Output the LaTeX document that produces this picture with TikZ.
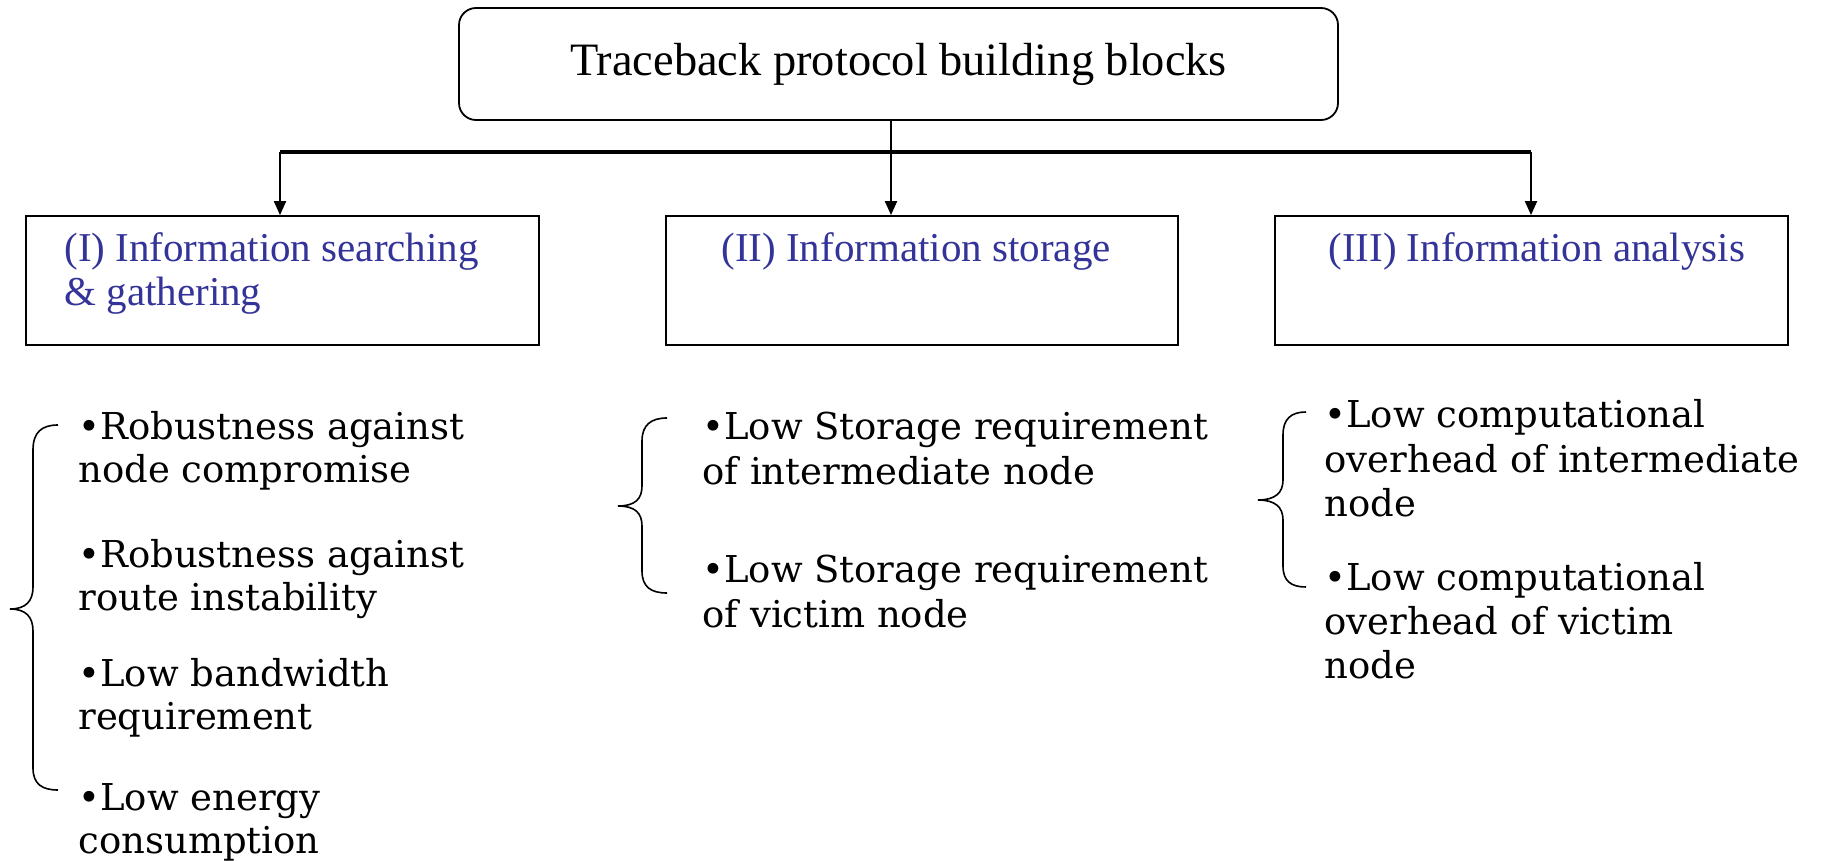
\documentclass[tikz,border=0pt]{standalone}
\usepackage{fontspec}
\setmainfont{Liberation Serif}
\newfontfamily\bulletfont{DejaVu Serif}
\usetikzlibrary{arrows.meta}
\definecolor{headblue}{RGB}{51,51,153}
\begin{document}
\begin{tikzpicture}[x=0.5pt,y=-0.5pt,
  catbox/.style={draw, line width=0.9pt, minimum height=64.5pt, inner sep=0pt},
  cattext/.style={anchor=base west, align=left, inner sep=0pt, text=headblue, font=\fontsize{20.5}{22}\selectfont},
  item/.style={anchor=base west, align=left, inner sep=0pt, font=\bulletfont\fontsize{18.5}{21.5}\selectfont},
  itemmid/.style={item, font=\bulletfont\fontsize{18.5}{22.5}\selectfont},
  itemright/.style={item, font=\bulletfont\fontsize{18.5}{22}\selectfont},
  brace/.style={line width=0.8pt},
  conn/.style={line width=1pt},
  arr/.style={conn, -{Triangle[length=7pt,width=6pt]}}]
\useasboundingbox (0,0) rectangle (1832,861);

\node[draw, rounded corners=8.5pt, line width=0.9pt, minimum width=439.5pt, minimum height=56pt,
      font=\fontsize{23.2}{27}\selectfont] (top) at (898.5,64) {Traceback protocol building blocks};

\node[catbox, minimum width=256.5pt] (b1) at (282.5,280.5) {};
\node[catbox, minimum width=256pt] (b2) at (922,280.5) {};
\node[catbox, minimum width=256.5pt] (b3) at (1531.5,280.5) {};

% base anchor of a multi-line node = baseline of its last line
\node[cattext] (t1) at (64,306) {(I) Information searching\\\& gathering};
\node[cattext] (t2) at (721,262) {(II) Information storage};
\node[cattext] (t3) at (1328,262) {(III) Information analysis};

\coordinate (hub) at (891,152);
\coordinate (barL) at (280,152);
\coordinate (barR) at (1531,152);
\draw[conn] (hub |- top.south) -- (hub);
\draw[line width=2pt] (barL) -- (barR);
\draw[arr] (barL) -- (barL |- b1.north);
\draw[arr] (hub) -- (hub |- b2.north);
\draw[arr] (barR) -- (barR |- b3.north);

% left column
\node[item] (l1) at (78,482) {•Robustness against\\node compromise};
\node[item] (l2) at (78,610) {•Robustness against\\route instability};
\node[item] (l3) at (78,729) {•Low bandwidth\\requirement};
\node[item] (l4) at (78,853) {•Low energy\\consumption};
% middle column
\node[itemmid] (m1) at (702,484) {•Low Storage requirement\\of intermediate node};
\node[itemmid] (m2) at (702,627) {•Low Storage requirement\\of victim node};
% right column
\node[itemright] (r1) at (1324,516) {•Low computational\\overhead of intermediate\\node};
\node[itemright] (r2) at (1324,678) {•Low computational\\overhead of victim\\node};

% braces
\draw[brace] (58,425) .. controls (42,425) and (33,432) .. (33,450) -- (33,587)
  .. controls (33,601) and (26,609) .. (10,609)
  .. controls (26,609) and (33,617) .. (33,631) -- (33,768)
  .. controls (33,784) and (42,790) .. (58,790);
\draw[brace] (667,418) .. controls (651,418) and (642,425) .. (642,441) -- (642,486)
  .. controls (642,499) and (635,506) .. (618,506)
  .. controls (635,506) and (642,513) .. (642,526) -- (642,571)
  .. controls (642,587) and (651,593) .. (667,593);
\draw[brace] (1306,412) .. controls (1291,412) and (1283,419) .. (1283,435) -- (1283,480)
  .. controls (1283,493) and (1275,500) .. (1258,500)
  .. controls (1275,500) and (1283,507) .. (1283,520) -- (1283,566)
  .. controls (1283,581) and (1291,587) .. (1306,587);
\end{tikzpicture}
\end{document}
